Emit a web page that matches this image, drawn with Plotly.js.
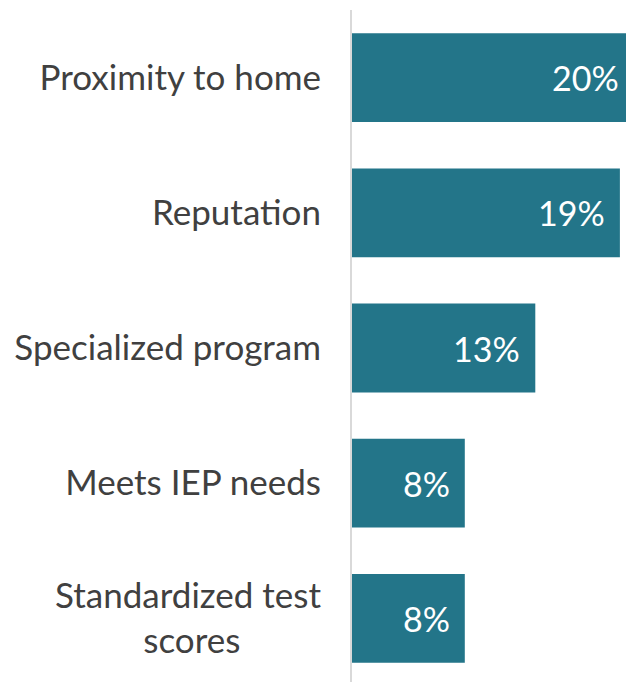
<!DOCTYPE html>
<html>
<head>
<meta charset="utf-8">
<script src="https://cdn.plot.ly/plotly-3.0.1.min.js"></script>
<style>
html, body { margin: 0; padding: 0; overflow: hidden; background: #fff; }
#chart { width: 660px; height: 690px; }
</style>
</head>
<body>
<div id="chart"></div>
<script>
const categories = ["Proximity to home", "Reputation", "Specialized program", "Meets IEP needs", "Standardized test scores"];
const tickLabels = ["Proximity to home", "Reputation", "Specialized program", "Meets IEP needs",
  "Standardized test<br>scores" + "\u00a0".repeat(9)];
const values = [20, 19, 13, 8, 8];
const valueLabels = ["20%", "19%", "13%", "8%", "8%"];

const barColor = "#237589";
const textColor = "#404040";
const fontFamily = "Lato, 'Open Sans', sans-serif";

const trace = {
  type: "bar",
  orientation: "h",
  x: values,
  y: categories,
  marker: { color: barColor },
  hoverinfo: "none"
};

const annotations = values.map((v, i) => ({
  x: v,
  y: categories[i],
  xref: "x",
  yref: "y",
  text: valueLabels[i],
  showarrow: false,
  xanchor: "right",
  yanchor: "middle",
  xshift: -13,
  font: { family: fontFamily, size: 34, color: "#ffffff" }
}));

const layout = {
  width: 660,
  height: 690,
  margin: { l: 352, r: 26, t: 10, b: 4 },
  paper_bgcolor: "#ffffff",
  plot_bgcolor: "#ffffff",
  bargap: 0.343,
  showlegend: false,
  font: { family: fontFamily, size: 35, color: textColor },
  xaxis: {
    range: [0, 20],
    visible: false,
    fixedrange: true
  },
  yaxis: {
    autorange: "reversed",
    tickmode: "array",
    tickvals: categories,
    ticktext: tickLabels,
    showline: true,
    linecolor: "#d9d9d9",
    linewidth: 2,
    ticks: "",
    showgrid: false,
    zeroline: false,
    ticklabelstandoff: 22,
    tickfont: { family: fontFamily, size: 35, color: textColor },
    fixedrange: true
  },
  annotations: annotations
};

Plotly.newPlot("chart", [trace], layout, { displayModeBar: false, staticPlot: true });
</script>
</body>
</html>
